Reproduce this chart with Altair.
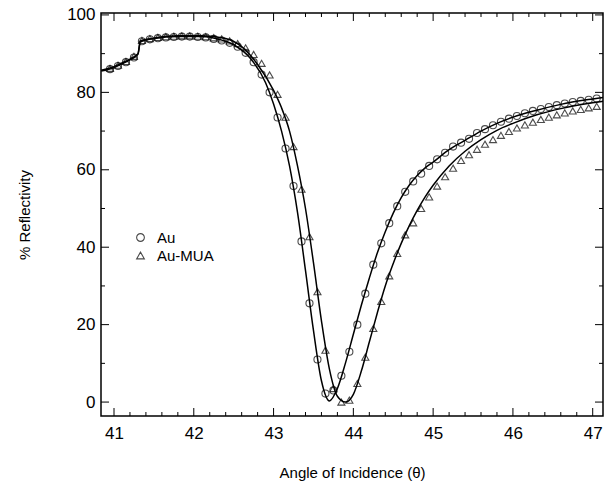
import altair as alt
import pandas as pd

# ---- data ----
theta = [40.95, 41.05, 41.15, 41.25, 41.35, 41.45, 41.55, 41.65, 41.75, 41.85,
         41.95, 42.05, 42.15, 42.25, 42.35, 42.45, 42.55, 42.65, 42.75, 42.85,
         42.95, 43.05, 43.15, 43.25, 43.35, 43.45, 43.55, 43.65, 43.75, 43.85,
         43.95, 44.05, 44.15, 44.25, 44.35, 44.45, 44.55, 44.65, 44.75, 44.85,
         44.95, 45.05, 45.15, 45.25, 45.35, 45.45, 45.55, 45.65, 45.75, 45.85,
         45.95, 46.05, 46.15, 46.25, 46.35, 46.45, 46.55, 46.65, 46.75, 46.85,
         46.95, 47.05]

au = [86.0, 86.8, 87.8, 89.0, 93.2, 93.7, 94.0, 94.2, 94.3, 94.4,
      94.4, 94.3, 94.2, 93.8, 93.4, 92.8, 91.8, 90.2, 87.8, 84.6,
      80.0, 73.5, 65.5, 55.8, 41.5, 25.5, 11.0, 2.2, 3.0, 6.8,
      13.0, 20.0, 28.0, 35.5, 41.0, 46.2, 50.6, 54.3, 57.0, 59.0,
      61.0, 62.7, 64.4, 66.0, 67.0, 68.0, 69.5, 70.5, 71.5, 72.4,
      73.2, 73.9, 74.6, 75.2, 75.7, 76.2, 76.7, 77.1, 77.5, 77.8,
      78.1, 78.4]

au_mua = [86.2, 87.0, 88.0, 89.3, 93.4, 93.9, 94.2, 94.4, 94.5, 94.6,
          94.6, 94.5, 94.4, 94.1, 93.8, 93.3, 92.6, 91.5, 89.8, 87.5,
          84.5, 79.5, 73.6, 66.0, 55.0, 42.7, 28.5, 13.4, 3.5, 0.0,
          0.5, 4.8, 11.6, 19.0, 26.0, 32.6, 38.4, 43.2, 46.3, 50.0,
          53.0, 55.8, 58.2, 60.4, 62.4, 63.9, 65.3, 66.6, 67.8, 68.9,
          69.9, 70.8, 71.6, 72.3, 73.0, 73.6, 74.2, 74.7, 75.2, 75.6,
          76.0, 76.4]

fit_au_theta = [40.84, 41.0, 41.1, 41.2, 41.3, 41.33, 41.5, 41.8, 42.1, 42.3,
                42.5, 42.7, 42.9, 43.0, 43.1, 43.2, 43.3, 43.4, 43.5, 43.6,
                43.7, 43.8, 43.9, 44.0, 44.1, 44.2, 44.3, 44.4, 44.5, 44.6,
                44.7, 44.8, 44.9, 45.0, 45.2, 45.4, 45.6, 45.8, 46.0, 46.3,
                46.6, 47.0, 47.13]
fit_au = [85.5, 86.4, 87.4, 88.4, 89.8, 93.0, 93.9, 94.4, 94.4, 93.8,
          92.3, 89.0, 82.5, 77.0, 70.0, 61.0, 49.0, 34.0, 18.5, 5.5,
          0.3, 3.5, 10.0, 17.5, 25.0, 32.0, 38.5, 44.0, 48.8, 52.8,
          56.0, 58.5, 60.5, 62.0, 65.2, 67.6, 70.0, 72.0, 73.6, 75.4,
          76.9, 78.3, 78.7]

fit_mua_theta = [40.84, 41.0, 41.1, 41.2, 41.3, 41.33, 41.5, 41.8, 42.1, 42.4,
                 42.6, 42.8, 43.0, 43.1, 43.2, 43.3, 43.4, 43.5, 43.6, 43.7,
                 43.8, 43.9, 44.0, 44.1, 44.2, 44.3, 44.4, 44.5, 44.6, 44.7,
                 44.8, 44.9, 45.0, 45.2, 45.4, 45.6, 45.8, 46.0, 46.3, 46.6,
                 47.0, 47.13]
fit_mua = [85.7, 86.6, 87.6, 88.6, 90.0, 93.3, 94.0, 94.6, 94.6, 93.9,
           91.8, 87.2, 80.5, 76.0, 70.0, 61.0, 50.0, 36.0, 21.0, 8.5,
           1.5, 0.0, 2.0, 8.0, 15.5, 23.0, 30.0, 35.8, 41.0, 45.5,
           49.5, 53.0, 56.0, 61.0, 64.8, 67.8, 70.2, 72.0, 74.2, 75.8,
           77.3, 77.7]

series_names = ["Au", "Au-MUA"]
x_major = [41, 42, 43, 44, 45, 46, 47]
x_minor = [41.2, 41.4, 41.6, 41.8, 42.2, 42.4, 42.6, 42.8, 43.2, 43.4, 43.6, 43.8,
           44.2, 44.4, 44.6, 44.8, 45.2, 45.4, 45.6, 45.8, 46.2, 46.4, 46.6, 46.8]
y_major = [0, 20, 40, 60, 80, 100]
y_minor = [10, 30, 50, 70, 90]

# ---- tables ----
pts = pd.DataFrame({
    "theta": theta + theta,
    "R": au + au_mua,
    "series": [series_names[0]] * len(theta) + [series_names[1]] * len(theta),
})
fits = pd.DataFrame({
    "theta": fit_au_theta + fit_mua_theta,
    "R": fit_au + fit_mua,
    "series": [series_names[0]] * len(fit_au_theta) + [series_names[1]] * len(fit_mua_theta),
})

W, H = 502, 403
FONT = "Liberation Sans"

xs = alt.Scale(domain=[40.837, 47.129], nice=False, zero=False)
ys = alt.Scale(domain=[-3.6, 100.5], nice=False, zero=False)

x_enc = alt.X("theta:Q", scale=xs,
              axis=alt.Axis(values=x_major, format="d", title="Angle of Incidence (θ)",
                            ticks=False, domain=False, grid=False, labelPadding=9,
                            titlePadding=24, labelFontSize=17, titleFontSize=15,
                            labelFont=FONT, titleFont=FONT, titleFontWeight="normal",
                            labelColor="black", titleColor="black"))
y_enc = alt.Y("R:Q", scale=ys,
              axis=alt.Axis(values=y_major, format="d", title="% Reflectivity",
                            ticks=False, domain=False, grid=False, labelPadding=6,
                            titlePadding=34, labelFontSize=17, titleFontSize=15,
                            labelFont=FONT, titleFont=FONT, titleFontWeight="normal",
                            labelColor="black", titleColor="black"))

lines = alt.Chart(fits).mark_line(color="black", strokeWidth=1.5, interpolate="monotone", clip=True).encode(
    x=x_enc, y=y_enc, detail="series:N")

points = alt.Chart(pts).mark_point(filled=False, color="black", strokeWidth=1.1, size=50, clip=True).encode(
    x=alt.X("theta:Q", scale=xs),
    y=alt.Y("R:Q", scale=ys),
    shape=alt.Shape("series:N",
                    scale=alt.Scale(domain=series_names, range=["circle", "triangle-up"]),
                    legend=alt.Legend(title=None, orient="none", legendX=32, legendY=217,
                                      labelFontSize=15, labelFont=FONT, labelColor="black",
                                      symbolSize=60, symbolStrokeColor="black",
                                      symbolStrokeWidth=1.1, labelOffset=9, rowPadding=2)),
)

xmaj = pd.DataFrame({"t": x_major})
xmin = pd.DataFrame({"t": x_minor})
ymaj = pd.DataFrame({"v": y_major})
ymin = pd.DataFrame({"v": y_minor})

def xticks(df, length):
    b = alt.Chart(df).mark_rule(color="black", strokeWidth=1).encode(
        x=alt.X("t:Q", scale=xs), y=alt.value(H), y2=alt.value(H - length))
    t = alt.Chart(df).mark_rule(color="black", strokeWidth=1).encode(
        x=alt.X("t:Q", scale=xs), y=alt.value(0), y2=alt.value(length))
    return b + t

def yticks(df, length):
    l = alt.Chart(df).mark_rule(color="black", strokeWidth=1).encode(
        y=alt.Y("v:Q", scale=ys), x=alt.value(0), x2=alt.value(length))
    r = alt.Chart(df).mark_rule(color="black", strokeWidth=1).encode(
        y=alt.Y("v:Q", scale=ys), x=alt.value(W), x2=alt.value(W - length))
    return l + r

chart = alt.layer(
    lines, points,
    xticks(xmaj, 8), xticks(xmin, 4), yticks(ymaj, 8), yticks(ymin, 4),
).properties(
    width=W, height=H,
    autosize=alt.AutoSizeParams(type="none"),
    padding={"left": 101, "top": 13, "right": 2, "bottom": 73},
    background="white",
).configure_view(stroke="black", strokeWidth=1.5)

chart.save("out.html", embed_options={"renderer": "svg", "actions": False})
